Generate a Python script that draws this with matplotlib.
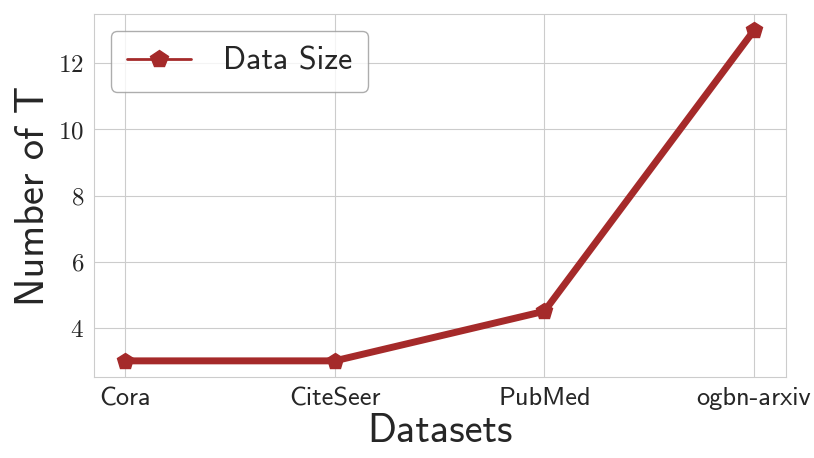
import matplotlib
matplotlib.use("Agg")
import matplotlib.pyplot as plt
import seaborn as sns
from matplotlib.ticker import FuncFormatter

datasets = ["Cora", "CiteSeer", "PubMed", "ogbn-arxiv"]
num_t = [3, 3, 4.5, 13]

sns.set_style("whitegrid")
plt.rcParams['font.family'] = ['cmss10', 'DejaVu Sans']
plt.rcParams['mathtext.fontset'] = 'cm'
plt.rcParams['axes.unicode_minus'] = False

fig, ax = plt.subplots(figsize=(8.14, 4.58), dpi=100)
x = list(range(len(datasets)))
ax.plot(x, num_t, color="#a52a2a", linewidth=5, marker="p", markersize=12, label="Data Size")
ax.set_xticks(x)
ax.set_xticklabels(datasets, fontsize=19)
ax.set_yticks([4, 6, 8, 10, 12])
ax.yaxis.set_major_formatter(FuncFormatter(lambda v, p: f"${int(v)}$"))
ax.tick_params(axis='y', labelsize=18)
ax.set_xlabel("Datasets", fontsize=29, labelpad=2)
ax.set_ylabel("Number of T", fontsize=29)
for s in ax.spines.values():
    s.set_color("#cccccc")
leg = ax.legend(loc="upper left", fontsize=23, handlelength=2.0, borderpad=0.5,
                frameon=True, bbox_to_anchor=(0.025, 0.953), borderaxespad=0,
                handletextpad=1.0)
leg.get_frame().set_edgecolor("#999999")
for h in leg.legend_handles:
    h.set_linewidth(2)
    h.set_markersize(13)
fig.subplots_adjust(left=0.115, right=0.965, top=0.97, bottom=0.176)
fig.savefig("out.png", dpi=100)
